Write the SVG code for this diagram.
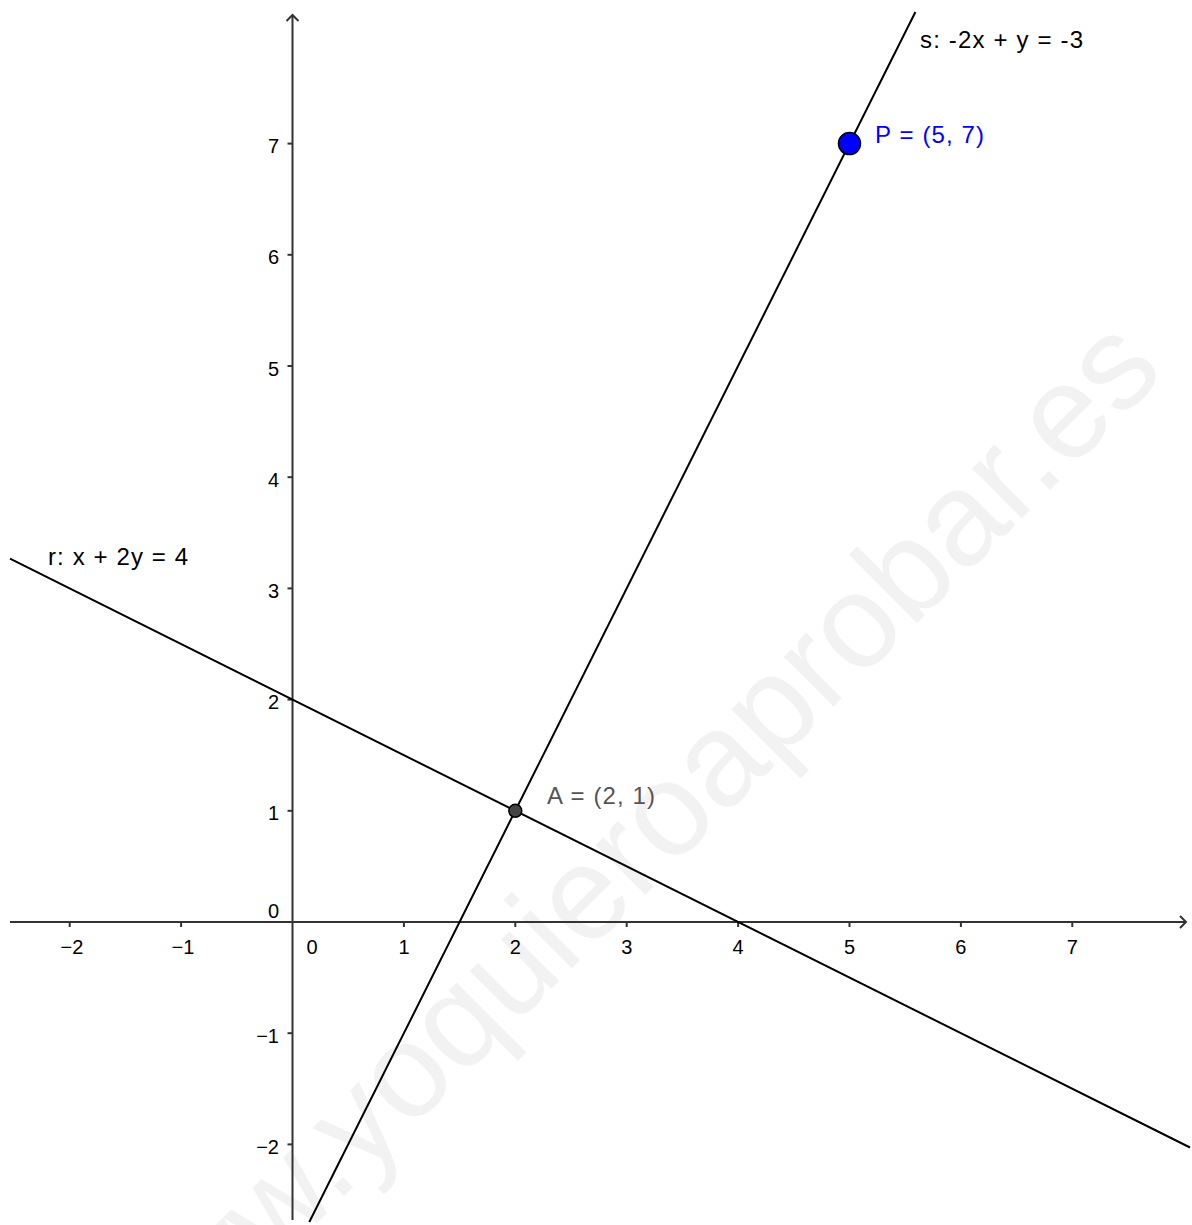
<svg xmlns="http://www.w3.org/2000/svg" width="1192" height="1225" viewBox="0 0 1192 1225">
  <style>
    .axis { stroke: #333333; stroke-width: 2; fill: none; }
    .tick { stroke: #333333; stroke-width: 2; }
    .line { stroke: #000000; stroke-width: 2; fill: none; }
    .num { font-family: "Liberation Sans", Arial, sans-serif; font-size: 20px; fill: #000000; }
    .lbl { font-family: "Liberation Sans", Arial, sans-serif; font-size: 24px; }
    .wm { font-family: "Liberation Sans", Arial, sans-serif; font-size: 133px; fill: #f2f2f2; }
  </style>
  <rect x="0" y="0" width="1192" height="1225" fill="#ffffff"/>

  <g id="watermark">
    <text class="wm" transform="translate(137,1403) rotate(-45)">www.yoquieroaprobar.es</text>
  </g>

  <g id="axes">
    <line class="axis" x1="10" y1="922" x2="1186" y2="922"/>
    <polyline class="axis" points="1180,916 1186,922 1180,928"/>
    <line class="axis" x1="292.5" y1="1220" x2="292.5" y2="15"/>
    <polyline class="axis" points="286.5,21 292.5,15 298.5,21"/>
    <g id="x-ticks">
      <line class="tick" x1="69.7" y1="922" x2="69.7" y2="927"/>
      <line class="tick" x1="181.1" y1="922" x2="181.1" y2="927"/>
      <line class="tick" x1="403.9" y1="922" x2="403.9" y2="927"/>
      <line class="tick" x1="515.3" y1="922" x2="515.3" y2="927"/>
      <line class="tick" x1="626.7" y1="922" x2="626.7" y2="927"/>
      <line class="tick" x1="738.1" y1="922" x2="738.1" y2="927"/>
      <line class="tick" x1="849.5" y1="922" x2="849.5" y2="927"/>
      <line class="tick" x1="960.9" y1="922" x2="960.9" y2="927"/>
      <line class="tick" x1="1072.3" y1="922" x2="1072.3" y2="927"/>
    </g>
    <g id="y-ticks">
      <line class="tick" x1="287.5" y1="143.6" x2="292.5" y2="143.6"/>
      <line class="tick" x1="287.5" y1="254.8" x2="292.5" y2="254.8"/>
      <line class="tick" x1="287.5" y1="366" x2="292.5" y2="366"/>
      <line class="tick" x1="287.5" y1="477.2" x2="292.5" y2="477.2"/>
      <line class="tick" x1="287.5" y1="588.4" x2="292.5" y2="588.4"/>
      <line class="tick" x1="287.5" y1="699.6" x2="292.5" y2="699.6"/>
      <line class="tick" x1="287.5" y1="810.8" x2="292.5" y2="810.8"/>
      <line class="tick" x1="287.5" y1="1033.2" x2="292.5" y2="1033.2"/>
      <line class="tick" x1="287.5" y1="1144.4" x2="292.5" y2="1144.4"/>
    </g>
    <g id="x-labels" text-anchor="middle">
      <text class="num" x="72" y="954">−2</text>
      <text class="num" x="183" y="954">−1</text>
      <text class="num" x="312" y="954">0</text>
      <text class="num" x="404" y="954">1</text>
      <text class="num" x="515.3" y="954">2</text>
      <text class="num" x="626.7" y="954">3</text>
      <text class="num" x="738.1" y="954">4</text>
      <text class="num" x="849.5" y="954">5</text>
      <text class="num" x="960.9" y="954">6</text>
      <text class="num" x="1072.3" y="954">7</text>
    </g>
    <g id="y-labels" text-anchor="end">
      <text class="num" x="279" y="153.1">7</text>
      <text class="num" x="279" y="264.3">6</text>
      <text class="num" x="279" y="375.5">5</text>
      <text class="num" x="279" y="486.7">4</text>
      <text class="num" x="279" y="597.9">3</text>
      <text class="num" x="279" y="709.1">2</text>
      <text class="num" x="279" y="820.3">1</text>
      <text class="num" x="279" y="918">0</text>
      <text class="num" x="279" y="1042.7">−1</text>
      <text class="num" x="279" y="1153.9">−2</text>
    </g>
  </g>

  <g id="connectors">
    <line id="line-r" class="line" x1="10" y1="558.6" x2="1190" y2="1147.5"/>
    <line id="line-s" class="line" x1="915.4" y1="12" x2="309.3" y2="1222"/>
  </g>

  <g id="label-r">
    <text class="lbl" x="48" y="565" fill="#000000" textLength="140" lengthAdjust="spacing">r: x + 2y = 4</text>
  </g>
  <g id="label-s">
    <text class="lbl" x="920" y="48" fill="#000000" textLength="163" lengthAdjust="spacing">s: -2x + y = -3</text>
  </g>

  <g id="point-A">
    <circle cx="515.3" cy="810.8" r="6.5" fill="#444444" stroke="#000000" stroke-width="1.5"/>
    <text class="lbl" x="547" y="804" fill="#555555" textLength="108" lengthAdjust="spacing">A = (2, 1)</text>
  </g>

  <g id="point-P">
    <circle cx="849.5" cy="143.6" r="11" fill="#0000ff" stroke="#000000" stroke-width="1.5"/>
    <text class="lbl" x="875" y="143" fill="#0000ff" textLength="109" lengthAdjust="spacing">P = (5, 7)</text>
  </g>
</svg>
